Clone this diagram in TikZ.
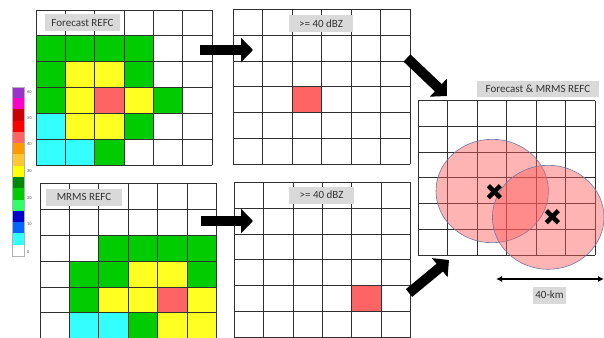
\documentclass[tikz,border=0pt]{standalone}
\usepackage{fontspec}
\setmainfont{Carlito}
\usetikzlibrary{arrows.meta}
\definecolor{cG}{HTML}{00CC00}
\definecolor{cY}{HTML}{FFFF22}
\definecolor{cC}{HTML}{33FFFF}
\definecolor{cR}{HTML}{FF6464}
\definecolor{cW}{HTML}{FFFFFF}
\definecolor{lbl}{HTML}{D9D9D9}
\definecolor{txt}{HTML}{333333}
\definecolor{gridc}{HTML}{303030}
\definecolor{bPurple}{HTML}{9933CC}
\definecolor{bMagenta}{HTML}{FF00CC}
\definecolor{bDRed}{HTML}{CC0000}
\definecolor{bRed}{HTML}{FF0000}
\definecolor{bSalmon}{HTML}{FF6666}
\definecolor{bOrange}{HTML}{FF9900}
\definecolor{bLOrange}{HTML}{FFC833}
\definecolor{bYellow}{HTML}{FFFF00}
\definecolor{bDGreen}{HTML}{008800}
\definecolor{bGreen}{HTML}{00CC00}
\definecolor{bLGreen}{HTML}{33FF66}
\definecolor{bDBlue}{HTML}{0000CC}
\definecolor{bBlue}{HTML}{0066FF}
\definecolor{bCyan}{HTML}{33FFFF}
\definecolor{bWhite}{HTML}{FFFFFF}
\definecolor{circfill}{HTML}{FF5A5A}
\definecolor{circline}{HTML}{6A78A8}
\newcommand\mygrid[5]{%
  \foreach \row [count=\ri from 0] in {#5} {
    \foreach \cc [count=\ci from 0] in \row {
      \fill[c\cc] ({#1+\ci*#3},{#2+\ri*#4}) rectangle ++(#3,#4);
    }
  }
  \foreach \i in {0,...,6} {
    \draw[gridline] ({#1+\i*#3},#2) -- ++(0,{6*#4});
    \draw[gridline] (#1,{#2+\i*#4}) -- ++({6*#3},0);
  }
}
\begin{document}
\begin{tikzpicture}[x=1pt,y=-1pt,
  gridline/.style={draw=gridc,line width=0.8pt},
  labelbox/.style={fill=lbl,text=txt,font=\fontsize{11}{13}\selectfont,inner sep=0pt,minimum height=17pt},
  blockarrow/.style={line width=10pt,-{Triangle[length=12pt,width=24pt]}},
  barlabel/.style={text=txt!80,font=\fontsize{4.5}{5}\selectfont,inner sep=0pt,anchor=west},
  circ/.style={fill=circfill,fill opacity=0.45,draw=circline,line width=0.6pt},
  xmark/.style={line width=4.5pt,black},
  scalearrow/.style={line width=1.4pt,{Latex[length=6pt,width=6pt]}-{Latex[length=6pt,width=6pt]}}]
\useasboundingbox (0,0) rectangle (604,337);
\fill[white] (0,0) rectangle (604,337);
\clip (0,0) rectangle (604,337);

% forecast grid
\mygrid{36}{10}{29.33}{25.83}{{W,W,W,W,W,W},{G,G,G,G,W,W},{G,Y,Y,G,W,W},{G,Y,R,Y,G,W},{C,Y,Y,G,W,W},{C,C,G,W,W,W}}
% MRMS grid
\mygrid{40}{183.3}{29.4}{25.9}{{W,W,W,W,W,W},{W,W,W,W,W,W},{W,W,G,G,G,G},{W,G,G,Y,Y,G},{W,G,Y,Y,R,Y},{W,C,C,G,Y,Y}}
% threshold grids
\mygrid{233.3}{9.3}{29.45}{25.83}{{W,W,W,W,W,W},{W,W,W,W,W,W},{W,W,W,W,W,W},{W,W,R,W,W,W},{W,W,W,W,W,W},{W,W,W,W,W,W}}
\mygrid{234}{182.7}{29.45}{25.7}{{W,W,W,W,W,W},{W,W,W,W,W,W},{W,W,W,W,W,W},{W,W,W,W,W,W},{W,W,W,W,R,W},{W,W,W,W,W,W}}
% combined grid
\mygrid{418.3}{100.7}{29.45}{25.7}{{W,W,W,W,W,W},{W,W,W,W,W,W},{W,W,W,W,W,W},{W,W,W,W,W,W},{W,W,W,W,W,W},{W,W,W,W,W,W}}

% labels
\node[labelbox,minimum width=75pt] (lfc) at (82.5,23) {Forecast REFC};
\node[labelbox,minimum width=76pt] (lmr) at (84,197) {MRMS REFC};
\node[labelbox,minimum width=64pt] (lt1) at (321,23.5) {>= 40 dBZ};
\node[labelbox,minimum width=65pt] (lt2) at (321.5,195) {>= 40 dBZ};
\node[labelbox,minimum width=122pt,minimum height=16pt] (lcb) at (538,88.5) {Forecast \& MRMS REFC};
\node[labelbox,minimum width=33pt] (lkm) at (549.5,295) {40-km};

% colour bar
\foreach \cname [count=\k from 0] in {bPurple,bMagenta,bDRed,bRed,bSalmon,bOrange,bLOrange,bYellow,bDGreen,bGreen,bLGreen,bDBlue,bBlue,bCyan,bWhite} {
  \fill[\cname] (12.3,{86.7+\k*11.29}) rectangle ++(12,11.29);
}
\draw[gray!60,line width=0.4pt] (12.3,86.7) rectangle (24.3,256);
\node[barlabel] (b60) at (27,92.3) {60};
\node[barlabel] (b50) at (27,118.3) {50};
\node[barlabel] (b40) at (27,144.3) {40};
\node[barlabel] (b30) at (27,171) {30};
\node[barlabel] (b20) at (27,197.7) {20};
\node[barlabel] (b10) at (27,224) {10};
\node[barlabel] (b0) at (27,251.7) {0};

% circles and crosses
\coordinate (c1) at (492.2,191);
\coordinate (c2) at (548.2,217.3);
\draw[circ] (c1) ellipse [x radius=56.2pt,y radius=51.7pt];
\draw[circ] (c2) ellipse [x radius=55.8pt,y radius=52pt];
\coordinate (x1) at (494.3,191.7);
\coordinate (x2) at (552.3,216.7);
\draw[xmark] ([shift={(-6,-6)}]x1) -- ([shift={(6,6)}]x1);
\draw[xmark] ([shift={(-6,6)}]x1) -- ([shift={(6,-6)}]x1);
\draw[xmark] ([shift={(-6,-6)}]x2) -- ([shift={(6,6)}]x2);
\draw[xmark] ([shift={(-6,6)}]x2) -- ([shift={(6,-6)}]x2);

% block arrows
\coordinate (a1s) at (200,50);
\coordinate (a1e) at (253,50);
\coordinate (a2s) at (200.5,221);
\coordinate (a2e) at (253,221);
\coordinate (a3s) at (407,58);
\coordinate (a3e) at (447,96);
\coordinate (a4s) at (409,293);
\coordinate (a4e) at (449,260);
\draw[blockarrow] (a1s) -- (a1e);
\draw[blockarrow] (a2s) -- (a2e);
\draw[blockarrow] (a3s) -- (a3e);
\draw[blockarrow] (a4s) -- (a4e);

% scale arrow
\coordinate (km1) at (496,279);
\coordinate (km2) at (604,279);
\draw[scalearrow] (km1) -- (km2);
\end{tikzpicture}
\end{document}
